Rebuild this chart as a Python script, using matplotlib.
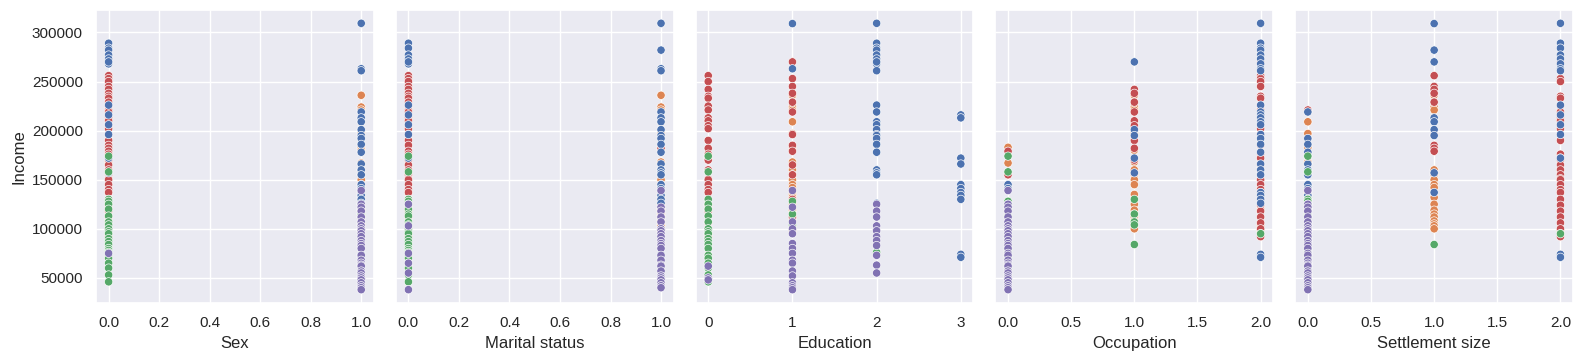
import matplotlib
matplotlib.use("Agg")
import matplotlib.pyplot as plt
import seaborn as sns
import pandas as pd

# ---- data: one entry per customer (grouped by cluster) ----
# cluster 0 (blue), 3 (red), 1 (orange), 2 (green), 4 (purple)
sex = [
    1,1,0,0,0,0,0,0,0,1,1,0,1,0,1,1,0,1,0,1,1,1,1,0,1,1,0,1,1,1,1,1,1,1,1,1,
    0,0,0,0,0,0,0,0,0,0,0,0,0,0,0,0,0,0,0,0,0,0,0,0,0,0,0,0,0,0,0,0,0,0,0,0,0,0,0,0,0,
    1,1,1,1,1,1,1,1,0,1,1,1,1,1,0,1,1,1,1,1,1,1,0,1,1,1,1,
    0,0,0,0,0,0,1,0,0,0,0,0,0,0,0,0,0,0,0,0,0,0,0,0,0,
    1,1,1,1,1,1,1,1,1,1,1,1,1,1,1,0,1,1,1,1,1,1,1,1,1,1,1,1,1,1,
]
marital = [
    1,1,0,0,1,0,0,0,0,1,1,0,1,0,1,1,0,1,0,1,1,1,1,0,1,1,1,1,1,1,1,1,1,1,1,1,
    0,0,0,0,0,0,0,0,0,0,0,0,0,0,0,0,0,0,0,0,1,0,0,0,0,0,0,0,0,0,0,0,0,0,0,0,0,0,0,0,0,
    1,1,1,1,1,1,1,1,1,1,1,1,1,1,0,1,1,1,1,1,1,1,1,1,1,1,1,
    0,0,0,0,0,0,0,0,0,0,0,0,0,0,0,0,0,0,0,0,0,0,0,0,0,
    1,0,1,1,1,1,0,1,1,1,1,1,1,1,1,0,1,1,0,1,1,1,0,1,1,1,1,1,1,0,
]
education = [
    1,2,2,2,2,2,2,2,2,1,2,2,2,3,3,2,2,2,2,2,2,2,2,3,3,2,2,2,3,3,3,3,3,2,3,3,
    1,0,1,0,1,0,1,0,0,1,0,0,1,0,0,0,0,1,0,1,0,1,0,0,0,1,0,1,0,0,0,0,0,1,0,0,1,0,0,0,0,
    1,1,1,1,1,1,1,1,1,1,1,1,1,1,1,1,1,1,1,1,1,1,1,1,1,1,1,
    0,0,0,1,0,0,1,0,0,1,0,0,0,0,0,0,0,1,2,0,0,0,0,0,0,
    1,2,1,2,2,1,2,1,2,1,2,2,1,2,1,1,2,1,1,2,0,1,2,1,0,0,1,1,1,1,
]
occupation = [
    2,2,2,2,2,2,2,2,1,2,2,2,2,2,2,2,2,1,2,1,2,2,2,1,2,2,1,2,0,0,2,2,2,2,2,2,
    2,2,2,2,2,1,1,2,2,1,2,2,1,2,1,1,2,2,1,2,1,0,2,2,1,2,2,0,2,2,2,2,2,2,2,2,2,2,2,2,2,
    1,1,1,1,1,0,1,0,1,1,1,1,1,2,2,1,2,1,2,1,1,1,1,1,2,1,2,
    0,0,1,0,0,0,1,0,1,1,0,0,2,0,0,1,0,0,0,0,0,0,0,0,0,
    0,0,0,0,0,0,0,0,0,0,0,0,0,0,0,0,0,0,0,0,0,0,0,0,0,0,0,0,0,0,
]
settlement = [
    1,2,2,2,1,2,2,2,1,2,2,2,0,2,1,1,2,1,2,1,0,0,0,2,0,0,1,0,0,0,1,0,0,0,2,2,
    2,1,2,2,1,1,1,2,2,1,2,0,2,2,2,2,2,1,2,1,1,1,2,2,2,2,2,2,2,2,2,2,2,2,2,2,2,2,2,2,2,
    1,1,1,0,0,0,1,0,0,1,1,1,1,1,0,0,1,1,0,1,1,1,1,1,1,1,2,
    0,0,0,0,0,0,0,0,0,0,0,0,2,0,0,1,0,0,0,0,0,0,0,0,0,
    0,0,0,0,0,0,0,0,0,0,0,0,0,0,0,0,0,0,0,0,0,0,0,0,0,0,0,0,0,0,
]
income = [
    309000,309300,289000,284000,282000,277000,273000,268000,270000,263000,261000,226000,
    219000,216000,213000,209000,206000,201000,196000,195000,192000,186000,178000,172000,
    166000,160000,157000,155000,145000,141000,137000,134000,130000,126000,74000,71000,
    270000,256000,253000,250000,245000,242000,238000,235000,233000,229000,225000,221000,
    219000,213000,210000,205000,202000,196000,190000,185000,182000,179000,176000,172000,
    170000,165000,160000,155000,151000,150000,145000,140000,137000,130000,124000,118000,
    112000,106000,100000,95000,92000,
    236000,224000,221000,209000,197000,183000,180000,167000,168000,160000,155000,150000,
    145000,142000,138000,135000,132000,125000,120000,119000,115000,112000,108000,105000,
    103000,100000,98000,
    174000,158000,130000,128000,125000,120000,115000,113000,107000,104000,100000,97000,
    95000,90000,87000,84000,80000,78000,76000,73000,70000,65000,60000,53000,46000,
    139000,125000,122000,118000,112000,107000,103000,100000,98000,95000,92000,88000,
    85000,83000,80000,75000,73000,68000,65000,63000,62000,57000,55000,52000,50000,
    48000,45000,42000,40000,38000,
]
cluster = ["0"] * 36 + ["3"] * 41 + ["1"] * 27 + ["2"] * 25 + ["4"] * 30

x_vars = ["Sex", "Marital status", "Education", "Occupation", "Settlement size"]
draw_order = ["1", "3", "0", "2", "4"]

df = pd.DataFrame({
    "Sex": sex, "Marital status": marital, "Education": education,
    "Occupation": occupation, "Settlement size": settlement,
    "Income": income, "cluster": cluster,
})
df["_k"] = df["cluster"].map({c: i for i, c in enumerate(draw_order)})
df = df.sort_values("_k", kind="stable").reset_index(drop=True)

sns.set_theme(style="darkgrid")
plt.rcParams["font.family"] = ["Liberation Sans", "DejaVu Sans"]
palette = dict(zip(["0", "1", "2", "3", "4"], sns.color_palette("deep", 5)))

fig, axes = plt.subplots(1, 5, figsize=(15.84, 3.63), dpi=100, sharey=True)
fig.subplots_adjust(left=0.0606, right=0.9931, top=0.9725, bottom=0.1653, wspace=0.079)

for ax, xv in zip(axes, x_vars):
    sns.scatterplot(data=df, x=xv, y="Income", hue="cluster", palette=palette,
                    ax=ax, legend=False)
    ax.set_xlabel(xv)
    if ax is not axes[0]:
        ax.set_ylabel("")
        ax.tick_params(axis="y", labelleft=False)
axes[0].set_ylabel("Income")

fig.savefig("out.png", dpi=100)
